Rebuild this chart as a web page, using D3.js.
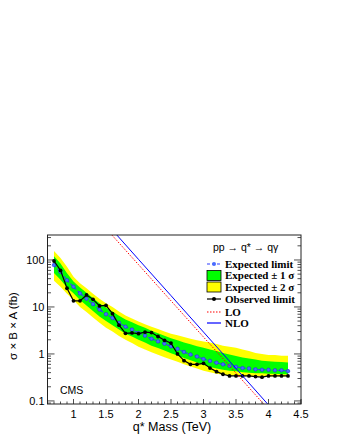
<!DOCTYPE html>
<html>
<head>
<meta charset="utf-8">
<script src="https://cdn.jsdelivr.net/npm/d3@7"></script>
<style>
  body { margin: 0; background: #fff; }
  svg { display: block; }
  .sans { font-family: "Liberation Sans", Arial, sans-serif; }
  .serif { font-family: "Liberation Serif", "Times New Roman", serif; font-weight: bold; }
</style>
</head>
<body>
<svg id="chart" width="340" height="440"></svg>
<script>
// q* mass points (TeV)
var mass = [0.7, 0.8, 0.9, 1.0, 1.1, 1.2, 1.3, 1.4, 1.5, 1.6, 1.7, 1.8, 1.9, 2.0, 2.1, 2.2, 2.3, 2.4, 2.5,
            2.6, 2.7, 2.8, 2.9, 3.0, 3.1, 3.2, 3.3, 3.4, 3.5, 3.6, 3.7, 3.8, 3.9, 4.0, 4.1, 4.2, 4.3];
// limits in fb
var observed = [95, 60, 25, 13.5, 13.5, 18, 14.5, 10.5, 10.8, 7.2, 4.1, 2.75, 2.8, 2.7, 2.9, 2.85, 2.35, 1.95, 1.7,
                1.0, 0.72, 0.6, 0.6, 0.63, 0.5, 0.42, 0.37, 0.34, 0.34, 0.34, 0.34, 0.33, 0.32, 0.34, 0.34, 0.34, 0.34];
var expected = [78, 56, 37, 27, 19.5, 15, 11.5, 8.8, 7.0, 5.8, 4.6, 3.8, 3.3, 2.8, 2.45, 2.1, 1.85, 1.65, 1.45,
                1.28, 1.1, 0.97, 0.88, 0.78, 0.71, 0.65, 0.6, 0.56, 0.53, 0.5, 0.49, 0.47, 0.46, 0.46, 0.45, 0.45, 0.43];
var plus2 = [155, 110, 72, 44, 32, 25, 19, 15, 12, 10, 8.0, 6.6, 5.7, 4.9, 4.3, 3.8, 3.4, 3.0, 2.7,
             2.5, 2.3, 2.1, 1.95, 1.85, 1.75, 1.62, 1.5, 1.42, 1.35, 1.25, 1.15, 1.05, 1.0, 0.95, 0.95, 0.92, 0.92];
var plus1 = [120, 84, 52, 35, 26, 20, 15.5, 12, 9.6, 8.0, 6.5, 5.4, 4.7, 4.1, 3.6, 3.1, 2.75, 2.45, 2.15,
             1.95, 1.75, 1.6, 1.45, 1.35, 1.25, 1.15, 1.05, 0.97, 0.9, 0.84, 0.8, 0.76, 0.72, 0.7, 0.68, 0.67, 0.66];
var minus1 = [53, 38, 26, 19.6, 14, 10.8, 8.2, 6.3, 5.0, 4.1, 3.3, 2.7, 2.35, 2.0, 1.75, 1.5, 1.33, 1.18, 1.04,
              0.93, 0.82, 0.73, 0.66, 0.58, 0.53, 0.49, 0.46, 0.44, 0.43, 0.41, 0.4, 0.39, 0.39, 0.38, 0.38, 0.37, 0.37];
var minus2 = [36, 27, 19, 14, 10, 7.8, 6.0, 4.6, 3.6, 3.0, 2.4, 2.0, 1.7, 1.43, 1.25, 1.08, 0.96, 0.85, 0.76,
              0.68, 0.6, 0.54, 0.49, 0.44, 0.41, 0.38, 0.36, 0.35, 0.34, 0.34, 0.33, 0.33, 0.33, 0.33, 0.33, 0.33, 0.33];
// theory curves (fb)
var theoryMass = [1.5, 2.0, 2.5, 3.0, 3.5, 4.0, 4.5];
var nlo = [617, 103, 17.4, 2.92, 0.49, 0.082, 0.0138];
var lo = [468, 79.6, 13.5, 2.29, 0.39, 0.066, 0.0112];

var xTicks = [1, 1.5, 2, 2.5, 3, 3.5, 4, 4.5];
var yTicks = [0.1, 1, 10, 100];
var yTickLabels = ["0.1", "1", "10", "100"];

var svg = d3.select("#chart");
var padL = 47.5, padR = 301, padT = 235, padB = 404;

var x = d3.scaleLinear().domain([0.6, 4.5]).range([padL, padR]);
var y = d3.scaleLog().domain([0.086, 340]).range([padB, padT]);

svg.append("defs").append("clipPath").attr("id", "plot")
  .append("rect").attr("x", padL).attr("y", padT)
  .attr("width", padR - padL).attr("height", padB - padT);

var g = svg.append("g").attr("clip-path", "url(#plot)");

//Bands
var band = function (lo_, hi_) {
    return d3.area()
      .x(function (d, i) { return x(mass[i]); })
      .y0(function (d, i) { return y(lo_[i]); })
      .y1(function (d, i) { return y(hi_[i]); })(mass);
};
g.append("path").attr("d", band(minus2, plus2)).attr("fill", "#ffff00");
g.append("path").attr("d", band(minus1, plus1)).attr("fill", "#00ff00");

// Expected
var line = function (vals) {
    return d3.line()
      .x(function (d, i) { return x(mass[i]); })
      .y(function (d, i) { return y(vals[i]); })(mass);
};
g.append("path").attr("d", line(expected)).attr("fill", "none")
  .attr("stroke", "#2f3fff").attr("stroke-width", 1.1).attr("stroke-dasharray", "3,2");
g.selectAll("circle.exp").data(expected).enter().append("circle")
  .attr("class", "exp")
  .attr("cx", function (d, i) { return x(mass[i]); })
  .attr("cy", function (d) { return y(d); })
  .attr("r", 1.8).attr("fill", "#4a6cff").attr("stroke", "#2233dd").attr("stroke-width", 0.6);

// Observed
g.append("path").attr("d", line(observed)).attr("fill", "none")
  .attr("stroke", "#000").attr("stroke-width", 1.2);
g.selectAll("circle.obs").data(observed).enter().append("circle")
  .attr("class", "obs")
  .attr("cx", function (d, i) { return x(mass[i]); })
  .attr("cy", function (d) { return y(d); })
  .attr("r", 1.9).attr("fill", "#000");

// Theory
var theory = function (vals) {
    return d3.line()
      .x(function (d, i) { return x(theoryMass[i]); })
      .y(function (d, i) { return y(vals[i]); })(theoryMass);
};
g.append("path").attr("d", theory(lo)).attr("fill", "none")
  .attr("stroke", "#ff0000").attr("stroke-width", 1).attr("stroke-dasharray", "1.5,1.5");
g.append("path").attr("d", theory(nlo)).attr("fill", "none")
  .attr("stroke", "#0000ff").attr("stroke-width", 1);

// Frame
svg.append("rect").attr("x", padL).attr("y", padT)
  .attr("width", padR - padL).attr("height", padB - padT)
  .attr("fill", "none").attr("stroke", "#222").attr("stroke-width", 1);

// X ticks (inside)
var xMinor = d3.range(7, 45).map(function (v) { return v / 10; });
svg.selectAll("line.xminor").data(xMinor).enter().append("line")
  .attr("x1", function (d) { return x(d); }).attr("x2", function (d) { return x(d); })
  .attr("y1", padB).attr("y2", function (d) {
      var major = xTicks.some(function (t) { return Math.abs(t - d) < 1e-9; });
      return padB - (major ? 5 : 2.5);
  })
  .attr("stroke", "#222").attr("stroke-width", 0.8);
svg.append("line").attr("x1", x(4.5)).attr("x2", x(4.5)).attr("y1", padB).attr("y2", padB - 5)
  .attr("stroke", "#222");
svg.selectAll("text.xlab").data(xTicks).enter().append("text")
  .attr("class", "sans")
  .attr("x", function (d) { return x(d); }).attr("y", padB + 14)
  .attr("text-anchor", "middle").attr("font-size", 11)
  .text(function (d) { return d; });

// Y ticks (inside, both sides)
var yMinor = [];
[0.01, 0.1, 1, 10, 100].forEach(function (dec) {
    for (var k = 1; k < 10; k++) yMinor.push(dec * k);
});
yMinor = yMinor.filter(function (v) { return v >= 0.086 && v <= 340; });
[padL, padR].forEach(function (px) {
    var dir = px === padL ? 1 : -1;
    svg.selectAll(null).data(yMinor).enter().append("line")
      .attr("x1", px).attr("x2", function (d) {
          var major = yTicks.some(function (t) { return Math.abs(t - d) < 1e-9; });
          return px + dir * (major ? 7 : 3.5);
      })
      .attr("y1", function (d) { return y(d); }).attr("y2", function (d) { return y(d); })
      .attr("stroke", "#222").attr("stroke-width", 0.8);
});
svg.selectAll("text.ylab").data(yTicks).enter().append("text")
  .attr("class", "sans")
  .attr("x", padL - 3).attr("y", function (d) { return y(d) + 4; })
  .attr("text-anchor", "end").attr("font-size", 11)
  .text(function (d, i) { return yTickLabels[i]; });

// Axis titles
svg.append("text").attr("class", "sans")
  .attr("x", 172).attr("y", 431).attr("text-anchor", "middle").attr("font-size", 12.5)
  .text("q* Mass (TeV)");
svg.append("text").attr("class", "sans")
  .attr("transform", "translate(17,326) rotate(-90)")
  .attr("text-anchor", "middle").attr("font-size", 11.5)
  .text("σ × B × A (fb)");

svg.append("text").attr("class", "sans")
  .attr("x", 60).attr("y", 394).attr("font-size", 10.5).text("CMS");

// Legend
svg.append("text").attr("class", "sans")
  .attr("x", 213).attr("y", 251).attr("font-size", 10.5).text("pp → q* → qγ");

var lx = 207, lw = 14, tx = 225;
var entries = [
    { label: "Expected limit", y: 264, kind: "exp" },
    { label: "Expected ± 1 σ", y: 275.5, kind: "g" },
    { label: "Expected ± 2 σ", y: 287, kind: "yel" },
    { label: "Observed limit", y: 299, kind: "obs" },
    { label: "LO", y: 312, kind: "lo" },
    { label: "NLO", y: 323, kind: "nlo" }
];
entries.forEach(function (e) {
    if (e.kind === "g" || e.kind === "yel") {
        svg.append("rect").attr("x", lx).attr("y", e.y - 5).attr("width", lw).attr("height", 10)
          .attr("fill", e.kind === "g" ? "#00ff00" : "#ffff00").attr("stroke", "#000").attr("stroke-width", 0.8);
    } else {
        var col = { exp: "#2f3fff", obs: "#000", lo: "#ff0000", nlo: "#0000ff" }[e.kind];
        var dash = { exp: "3,2", obs: null, lo: "1.5,1.5", nlo: null }[e.kind];
        svg.append("line").attr("x1", lx).attr("x2", lx + lw).attr("y1", e.y).attr("y2", e.y)
          .attr("stroke", col).attr("stroke-width", 1.2).attr("stroke-dasharray", dash);
        if (e.kind === "exp" || e.kind === "obs")
            svg.append("circle").attr("cx", lx + lw / 2).attr("cy", e.y).attr("r", 2)
              .attr("fill", e.kind === "exp" ? "#4a6cff" : "#000");
    }
    svg.append("text").attr("class", "serif")
      .attr("x", tx).attr("y", e.y + 3.8).attr("font-size", 11).text(e.label);
});
</script>
</body>
</html>
